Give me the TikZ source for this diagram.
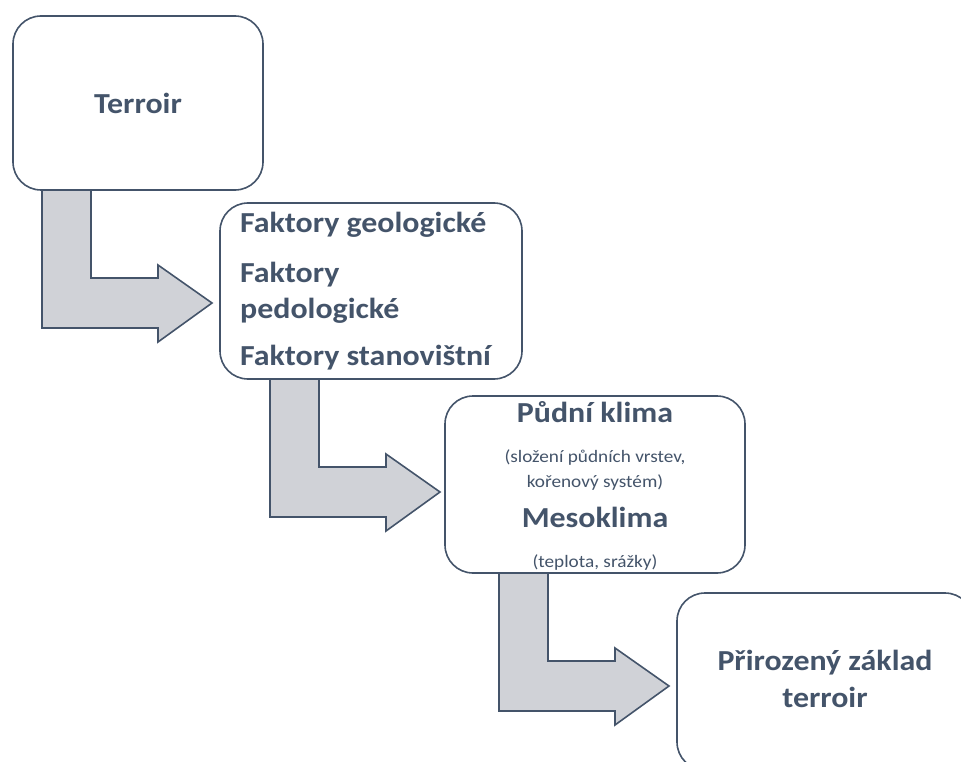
\documentclass[tikz,border=0pt]{standalone}
\usepackage{fontspec}
\setmainfont{Carlito}
\definecolor{slate}{HTML}{44546A}
\definecolor{arrowgray}{HTML}{D0D2D7}
\newcommand{\widetxt}[1]{\scalebox{1.1}[1]{#1}}
\begin{document}
\begin{tikzpicture}[
    x=1pt, y=-1pt,
    box/.style={draw=slate, line width=1.6pt, rounded corners=28pt, fill=white, inner sep=0pt},
    bent/.style={draw=slate, line width=1.6pt, fill=arrowgray, line join=miter},
    bigtext/.style={text=slate, font=\fontsize{29}{32}\selectfont\bfseries, inner sep=0pt},
    smalltext/.style={text=slate, font=\fontsize{17.5}{20}\selectfont, inner sep=0pt}
]
\useasboundingbox (0,0) rectangle (961,762);
\clip (0,0) rectangle (961,762);

% Bent arrows between the steps
\foreach \dx/\dy in {0/0, 228/189, 457/383} {
    \begin{scope}[shift={(42+\dx,190+\dy)}]
        \draw[bent] (0,0) -- (49,0) -- (49,88) -- (116,88) -- (116,75)
            -- (170,113) -- (116,152) -- (116,138) -- (0,138) -- cycle;
    \end{scope}
}

% Boxes
\node[box, minimum width=250pt, minimum height=174pt] (terroir) at (138,103) {};
\node[box, minimum width=302pt, minimum height=176pt] (faktory) at (371,291) {};
\node[box, minimum width=300pt, minimum height=177pt] (klima) at (595,484.5) {};
\node[box, minimum width=296pt, minimum height=177pt] (zaklad) at (825,681.5) {};

% Labels
\node[bigtext, anchor=base] (t1) at (138,114) {\widetxt{Terroir}};

\node[bigtext, anchor=base west] (f1) at (240,233) {\widetxt{Faktory geologické}};
\node[bigtext, anchor=base west] (f2) at (240,282) {\widetxt{Faktory}};
\node[bigtext, anchor=base west] (f3) at (240,318) {\widetxt{pedologické}};
\node[bigtext, anchor=base west] (f4) at (240,365) {\widetxt{Faktory stanovištní}};

\node[bigtext, anchor=base] (k1) at (595,422) {\widetxt{Půdní klima}};
\node[smalltext, anchor=base] (k2) at (595,462) {\widetxt{(složení půdních vrstev,}};
\node[smalltext, anchor=base] (k3) at (595,487) {\widetxt{kořenový systém)}};
\node[bigtext, anchor=base] (k4) at (595,527) {\widetxt{Mesoklima}};
\node[smalltext, anchor=base] (k5) at (595,567) {\widetxt{(teplota, srážky)}};

\node[bigtext, anchor=base] (z1) at (825,670) {\widetxt{Přirozený základ}};
\node[bigtext, anchor=base] (z2) at (825,707) {\widetxt{terroir}};

\end{tikzpicture}
\end{document}
